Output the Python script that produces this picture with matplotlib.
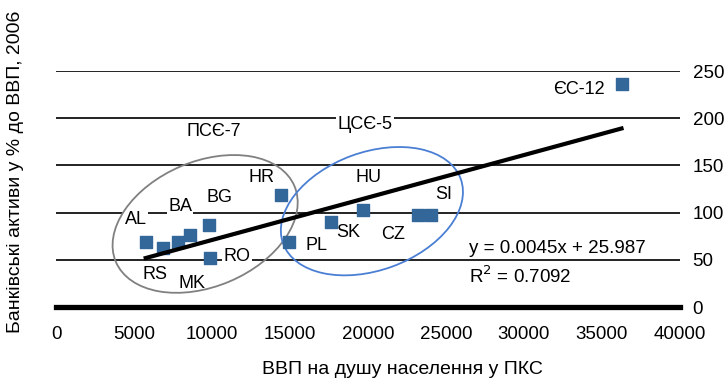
import numpy as np
import matplotlib.pyplot as plt
from matplotlib.patches import Ellipse
from matplotlib.transforms import ScaledTranslation

plt.rcParams['font.family'] = ['Liberation Sans', 'DejaVu Sans']

# ВВП на душу населення (ПКС) та банківські активи, % ВВП
gdp = [5750, 6850, 7800, 8600, 9800, 9900, 14450,
       14950, 17600, 19700, 23200, 24050, 36250]
assets = [69, 63, 68.5, 76, 87, 52, 119,
          69, 90, 103, 97.5, 97.5, 236]

# підписи країн: (текст, x, y)
labels = [('AL', 5100, 93), ('BA', 7950, 106), ('BG', 10450, 116),
          ('HR', 13150, 137), ('RS', 6350, 34), ('MK', 8750, 25),
          ('RO', 11600, 53), ('PL', 16700, 65), ('SK', 18700, 79),
          ('CZ', 21600, 77), ('HU', 20050, 137), ('SI', 24850, 119),
          ('ЄС-12', 33550, 230)]
groups = [('ПСЄ-7', 10100, 186), ('ЦСЄ-5', 19800, 193)]

slope, intercept, r2 = 0.0045, 25.987, 0.7092

xticks = [0, 5000, 10000, 15000, 20000, 25000, 30000, 35000, 40000]
yticks = [0, 50, 100, 150, 200, 250]

fig = plt.figure(figsize=(7.28, 3.87), dpi=100)
ax = fig.add_axes([56 / 728, 80 / 387, 624 / 728, 236 / 387])
ax.set_xlim(0, 40000)
ax.set_ylim(0, 250)

for y in yticks[1:]:
    ax.axhline(y, color='#222222', lw=1.4, zorder=1)
ax.axhline(0, color='black', lw=3.8, zorder=1, clip_on=False)

for s in ax.spines.values():
    s.set_visible(False)

ax.set_xticks(xticks)
ax.set_xticklabels([str(v) for v in xticks])
ax.set_yticks(yticks)
ax.set_yticklabels([str(v) for v in yticks])
ax.yaxis.tick_right()
ax.tick_params(axis='y', length=0, pad=9, labelsize=13.5)
ax.tick_params(axis='x', length=0, pad=14, labelsize=13.5)

# еліпси груп (розміри в дюймах, центр у координатах даних)
def group_ellipse(cx, cy, w, h, angle, color):
    tr = fig.dpi_scale_trans + ScaledTranslation(cx, cy, ax.transData)
    ax.add_patch(Ellipse((0, 0), w, h, angle=angle, transform=tr,
                         fill=False, edgecolor=color, lw=1.3, zorder=3))

group_ellipse(9560, 88, 1.94, 1.25, 23, '#808080')
group_ellipse(20250, 101.5, 1.89, 1.18, 20, '#4a7fd4')

ax.scatter(gdp, assets, marker='s', s=80, color='#336699', zorder=4)

xs = np.array([min(gdp), max(gdp)])
ax.plot(xs, slope * xs + intercept, color='black', lw=3, zorder=5)

box = dict(facecolor='white', edgecolor='none', pad=1)
for txt, x, y in labels + groups:
    ax.text(x, y, txt, ha='center', va='center', fontsize=13,
            bbox=box, zorder=2)

ax.text(26500, 62, f'y = {slope}x + {intercept}', ha='left', va='center',
        fontsize=13.5, bbox=box, zorder=2)
ax.text(26500, 33, f'R$^2$ = {r2}', ha='left', va='center',
        fontsize=13.5, zorder=2)

fig.text(16 / 728, 1 - 172 / 387, 'Банківські активи у % до ВВП, 2006',
         rotation=90, ha='center', va='center', fontsize=14)
fig.text(402 / 728, 1 - 370 / 387, 'ВВП на душу населення у ПКС',
         ha='center', va='center', fontsize=14)

fig.savefig('out.png', dpi=100)
